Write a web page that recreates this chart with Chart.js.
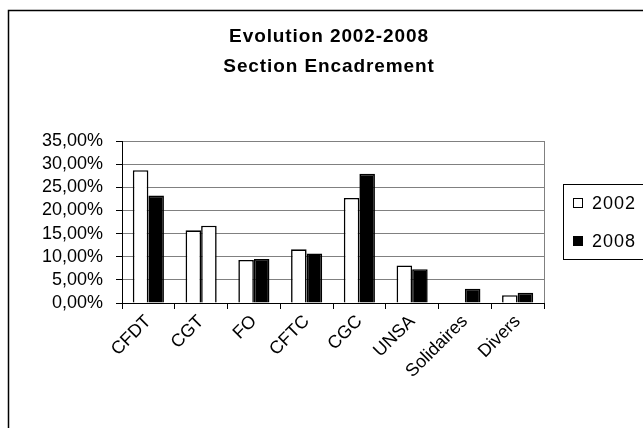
<!DOCTYPE html>
<html>
<head>
<meta charset="utf-8">
<script src="https://cdn.jsdelivr.net/npm/chart.js@4"></script>
<style>
html,body{margin:0;padding:0;background:#fff;}
canvas{display:block;}
</style>
</head>
<body>
<canvas id="c" width="643" height="428"></canvas>
<script>
const categories = ["CFDT","CGT","FO","CFTC","CGC","UNSA","Solidaires","Divers"];
const values2002 = [28.7, 15.7, 9.3, 11.6, 22.7, 8.1, 0, 1.7];
const values2008 = [23.2, 16.7, 9.5, 10.7, 27.9, 7.3, 3.1, 2.2];
const colors2008 = ["#000","#fff","#000","#000","#000","#000","#000","#000"];
const seriesNames = ["2002","2008"];
const titleLines = ["Evolution 2002-2008","Section Encadrement"];
const FONT = "'Liberation Sans', Arial, sans-serif";

const decor = {
  id:'decor',
  afterDraw(chart){
    const ctx = chart.ctx, a = chart.chartArea;
    ctx.save();
    ctx.strokeStyle = '#000'; ctx.lineWidth = 1.5;
    ctx.strokeRect(8.5, 10.5, 700, 500);
    ctx.strokeStyle = '#808080'; ctx.lineWidth = 1;
    ctx.beginPath(); ctx.moveTo(Math.round(a.right)+0.5, a.top); ctx.lineTo(Math.round(a.right)+0.5, a.bottom); ctx.stroke();
    ctx.fillStyle = '#000';
    ctx.font = "bold 19px " + FONT;
    ctx.textAlign = 'center'; ctx.textBaseline = 'middle';
    try { ctx.letterSpacing = '0.9px'; } catch(e){}
    ctx.fillText(titleLines[0], 329, 37);
    ctx.fillText(titleLines[1], 329, 67);
    try { ctx.letterSpacing = '0px'; } catch(e){}
    ctx.strokeStyle = '#000'; ctx.lineWidth = 1;
    ctx.strokeRect(563.5, 184.5, 90, 75);
    const ys = [203, 241];
    chart.data.datasets.forEach((ds, i) => {
      ctx.fillStyle = i === 0 ? '#fff' : '#000';
      ctx.fillRect(573.5, ys[i]-4.5, 9, 9);
      ctx.strokeRect(573.5, ys[i]-4.5, 9, 9);
      ctx.fillStyle = '#000';
      ctx.font = "18px " + FONT;
      ctx.textAlign = 'left';
      try { ctx.letterSpacing = '1px'; } catch(e){}
      ctx.fillText(ds.label, 592, ys[i]+1);
      try { ctx.letterSpacing = '0px'; } catch(e){}
    });
    ctx.restore();
  }
};

new Chart(document.getElementById('c'), {
  type: 'bar',
  data: {
    labels: categories,
    datasets: [
      { label: seriesNames[0], data: values2002, backgroundColor: '#fff', borderColor: '#000', borderWidth: 1.6 },
      { label: seriesNames[1], data: values2008, backgroundColor: colors2008, borderColor: '#000', borderWidth: 1.6 }
    ]
  },
  options: {
    responsive: false,
    devicePixelRatio: 1,
    animation: false,
    layout: { padding: { top: 141, right: 99, left: 0, bottom: 0 } },
    datasets: { bar: { categoryPercentage: 0.59, barPercentage: 1 } },
    plugins: { legend: { display: false }, title: { display: false }, tooltip: { enabled: false } },
    scales: {
      x: {
        grid: { drawOnChartArea: false, offset: true, tickColor: '#000', tickLength: 6 },
        border: { color: '#000', width: 1 },
        ticks: { color: '#000', font: { family: FONT, size: 18 }, maxRotation: 45, minRotation: 45, padding: 2, autoSkip: false },
        afterFit(s){ s.height = 125; }
      },
      y: {
        min: 0, max: 35,
        grid: { color: '#808080', lineWidth: 1, tickColor: '#000', tickLength: 6 },
        border: { color: '#000', width: 1 },
        ticks: { stepSize: 5, autoSkip: false, color: '#000', font: { family: FONT, size: 18 }, padding: 13,
          callback: v => v.toFixed(2).replace('.', ',') + '%' },
        afterFit(s){ s.width = 122; }
      }
    }
  },
  plugins: [decor]
});
</script>
</body>
</html>
